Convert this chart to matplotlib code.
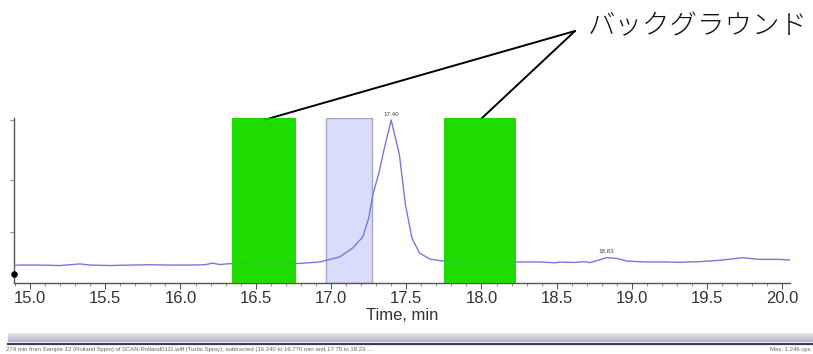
import matplotlib
matplotlib.use("Agg")
import matplotlib.pyplot as plt
import numpy as np
from matplotlib.lines import Line2D

# Chromatogram trace (time in min, relative intensity)
time_min = [14.894, 15.066, 15.199, 15.332, 15.398, 15.531, 15.664, 15.797, 15.930,
            16.062, 16.162, 16.215, 16.262, 16.315, 16.394, 16.527, 16.660, 16.793,
            16.926, 17.058, 17.145, 17.211, 17.251, 17.278, 17.320, 17.355, 17.400,
            17.455, 17.495, 17.538, 17.588, 17.656, 17.742, 17.855, 17.988, 18.121,
            18.254, 18.386, 18.486, 18.519, 18.619, 18.685, 18.718, 18.785, 18.830,
            18.904, 18.964, 19.084, 19.216, 19.316, 19.449, 19.582, 19.734, 19.847,
            19.980, 20.046]
intensity = [0.110, 0.110, 0.107, 0.117, 0.110, 0.107, 0.110, 0.112, 0.110,
             0.110, 0.112, 0.122, 0.113, 0.118, 0.120, 0.117, 0.117, 0.120,
             0.129, 0.160, 0.215, 0.282, 0.399, 0.540, 0.681, 0.828, 1.000,
             0.785, 0.479, 0.276, 0.184, 0.147, 0.135, 0.129, 0.129, 0.129,
             0.129, 0.129, 0.124, 0.128, 0.126, 0.131, 0.125, 0.142, 0.156,
             0.150, 0.135, 0.129, 0.129, 0.127, 0.131, 0.139, 0.155, 0.145,
             0.145, 0.141]

# Labelled peaks
peak_times = [17.40, 18.83]
peak_heights = [1.000, 0.156]

# Background windows and the selected peak window (min)
background_windows = [(16.34, 16.77), (17.75, 18.23)]
selection_window = (16.965, 17.271)

x_ticks = [15.0, 15.5, 16.0, 16.5, 17.0, 17.5, 18.0, 18.5, 19.0, 19.5, 20.0]
x_label = "Time, min"
callout_text = "バックグラウンド"
status_left = ("274 min from Sample 12 (Rolland 5ppm) of SCAN-Rolland0111.wiff (Turbo Spray), "
               "subtracted ({:.3f} to {:.3f} min and {:.2f} to {:.2f} ...")
status_right = "Max. 1.246 cps"

W, H = 813, 354
fig = plt.figure(figsize=(W / 100, H / 100), dpi=100)
fig.patch.set_facecolor("white")


def fx(px):
    return px / W


def fy(py):
    return 1 - py / H


ax = fig.add_axes([fx(14), fy(283), fx(790) - fx(14), fy(118) - fy(283)])
ax.set_xlim(14.894, 20.05)
ax.set_ylim(0, 1.012)

for spine in ("top", "right"):
    ax.spines[spine].set_visible(False)
for spine in ("left", "bottom"):
    ax.spines[spine].set_color("#555555")
    ax.spines[spine].set_linewidth(1.0)

green = "#1fdc00"
ax.axvspan(selection_window[0], selection_window[1], ymin=0, ymax=1,
           facecolor="#d9dcfb", edgecolor="#a4a6c4", linewidth=1.0, zorder=1)

ax.plot(time_min, intensity, color="#7878dc", linewidth=1.0, zorder=3)
# background windows drawn over the trace, letting it show faintly
for start, end in background_windows:
    ax.axvspan(start, end, ymin=0, ymax=1, facecolor=green, edgecolor="none", zorder=1)
    ax.axvspan(start, end, ymin=0, ymax=1, facecolor=green, alpha=0.8,
               edgecolor="none", zorder=4)

for t, h in zip(peak_times, peak_heights):
    ax.text(t, h + 0.02, f"{t:.2f}", ha="center", va="bottom", fontsize=4.5,
            color="#444444", family="Liberation Sans")

ax.set_xticks(x_ticks)
ax.set_xticklabels([f"{v:.1f}" for v in x_ticks], fontsize=12,
                   family="Liberation Sans", color="#333333")
ax.set_xticks(np.arange(14.9, 20.05, 0.1), minor=True)
ax.tick_params(axis="x", which="major", length=4, width=0.8, color="#555555", pad=2)
ax.tick_params(axis="x", which="minor", length=2, width=0.6, color="#777777")
ax.set_yticks([0.31, 0.63, 1.0])
ax.set_yticklabels([])
ax.tick_params(axis="y", which="major", length=3, width=0.6, color="#777777")
ax.set_xlabel(x_label, fontsize=12, family="Liberation Sans", color="#333333", labelpad=1)

ax.scatter([14.894], [0.055], s=14, color="black", zorder=5, clip_on=False)

# Callout lines to the background windows
apex = (fx(575), fy(31))
for start, end in background_windows:
    ax.annotate("", xy=((start + end) / 2, 1.0), xycoords="data",
                xytext=apex, textcoords="figure fraction",
                arrowprops=dict(arrowstyle="-", color="black", lw=1.4,
                                shrinkA=0, shrinkB=0))
fig.text(fx(588), fy(26), callout_text, fontsize=19.8, ha="left", va="center",
         family=["Noto Sans CJK JP", "DejaVu Sans"], color="#111111", fontweight="light")

# Status bar at the bottom
band = fig.add_axes([fx(8), fy(342), 1 - fx(8), fy(333) - fy(342)])
grad = np.linspace(0, 1, 20).reshape(-1, 1)
band.imshow(grad, aspect="auto", cmap=matplotlib.colors.LinearSegmentedColormap.from_list(
    "band", ["#e6e6ee", "#b4b4c6"]), extent=[0, 1, 0, 1])
band.set_axis_off()
fig.add_artist(Line2D([fx(8), 1], [fy(344), fy(344)], color="#3c3c5a", linewidth=1.6))
s1, e1 = background_windows[0]
s2, e2 = background_windows[1]
fig.text(fx(6), fy(350), status_left.format(s1, e1, s2, e2), fontsize=4.3,
         color="#666666", ha="left", va="center", family="Liberation Sans")
fig.text(fx(810), fy(350), status_right, fontsize=4.3, color="#666666",
         ha="right", va="center", family="Liberation Sans")

fig.savefig("out.png", dpi=100, facecolor="white")
